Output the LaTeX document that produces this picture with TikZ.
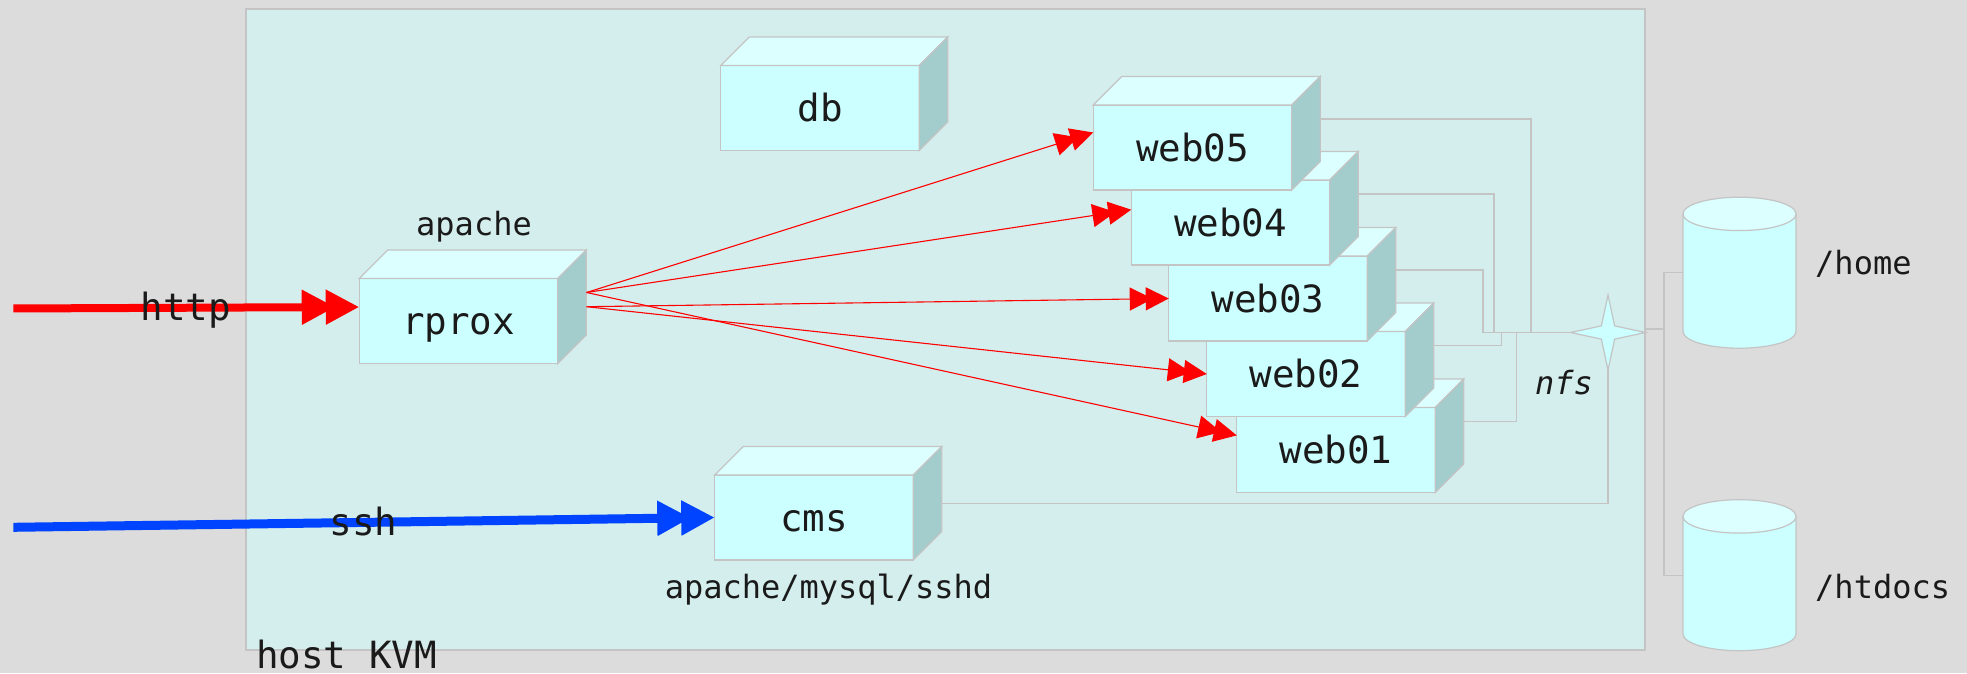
\documentclass[tikz,border=0pt]{standalone}
\usepackage{fontspec}
\setmonofont{DejaVu Sans Mono}
\usepackage{tikz}
\usetikzlibrary{positioning,arrows.meta,shapes.geometric}
\definecolor{pagegray}{HTML}{DCDCDC}
\definecolor{hostfill}{HTML}{D4EEED}
\definecolor{edgegray}{HTML}{C4C4C4}
\definecolor{frontcyan}{HTML}{CCFFFF}
\definecolor{topcyan}{HTML}{DCFFFF}
\definecolor{sidecyan}{HTML}{A3CCCC}
\definecolor{sshblue}{HTML}{0044FF}
\definecolor{inkblack}{HTML}{1A1A1A}
\tikzset{
  % Specifications for style of nodes:
  base/.style = {
    draw=edgegray,
    line width=1.2pt,
    inner sep=0pt,
    outer sep=0pt
  },
  server/.style = {
    base,
    rectangle,
    minimum width=198.5pt,
    minimum height=85pt,
    text height=27.5pt,
    text depth=0pt,
    fill=frontcyan,
    text=inkblack,
    font=\fontsize{37.5}{40}\selectfont\ttfamily
  },
  hostbox/.style = {
    base,
    rectangle,
    minimum width=1399pt,
    minimum height=641pt,
    fill=hostfill
  },
  store/.style = {
    rectangle,
    inner sep=0pt,
    outer sep=0pt,
    minimum width=113pt,
    minimum height=151pt
  },
  hub/.style = {
    base,
    star,
    star points=4,
    star point ratio=4,
    minimum size=75pt,
    fill=frontcyan
  },
  tag/.style = {
    inner sep=0pt,
    text height=24pt,
    text depth=0pt,
    text=inkblack,
    font=\fontsize{32}{36}\selectfont\ttfamily
  },
  bigtag/.style = {
    tag,
    text height=27.5pt,
    font=\fontsize{37.5}{40}\selectfont\ttfamily
  },
  link/.style = {
    draw=edgegray,
    line width=1.2pt
  },
  feed/.style = {
    red,
    line width=1.1pt,
    -{Triangle[length=23pt,width=23pt,sep=-7pt]Triangle[length=23pt,width=23pt]}
  },
  entry/.style = {
    line width=#1,
    -{Triangle[length=33.5pt,width=33pt,sep=-9.5pt]Triangle[length=33.5pt,width=33pt]}
  },
}
\def\boxfaces#1{
  \begin{scope}
    \draw[base, fill=topcyan] (#1.north west) -- ++(28.5,28.5) -- ++(198.5,0) -- (#1.north east) -- cycle;
    \draw[base, fill=sidecyan] (#1.north east) -- ++(28.5,28.5) -- ++(0,-85) -- (#1.south east) -- cycle;
    \coordinate (#1out) at ([shift={(28.5,28.5)}]#1.east);
  \end{scope}
}
\def\storeshape#1{
  \begin{scope}
    \draw[base, fill=frontcyan] ([yshift=-16.7pt]#1.north west) -- ([yshift=16.7pt]#1.south west)
      arc[start angle=180, end angle=360, x radius=56.5, y radius=16.7]
      -- ([yshift=-16.7pt]#1.north east) -- cycle;
    \draw[base, fill=topcyan] ([yshift=-16.7pt]#1.north west)
      arc[start angle=180, end angle=540, x radius=56.5, y radius=16.7] -- cycle;
  \end{scope}
}

\begin{document}
\begin{tikzpicture}[x=1pt, y=1pt]
    \fill[pagegray] (0,0) rectangle (1967,673);
    % Host and the boxes in it
    \node[hostbox] (host) at (945.5,343.5) {};
    \node[server] (rprox) at (458.5,352)   {rprox};
    \node[server] (db)    at (820,565)     {db};
    \node[server] (cms)   at (814,155.5)   {cms};
    \node[server] (web01) at (1336,223)    {web01};
    \boxfaces{web01}
    \node[server] (web02) at (1306,299)    {web02};
    \boxfaces{web02}
    \node[server] (web03) at (1268,374.5)  {web03};
    \boxfaces{web03}
    \node[server] (web04) at (1230.5,450.5) {web04};
    \boxfaces{web04}
    \node[server] (web05) at (1192.5,525.5) {web05};
    \boxfaces{web05}
    \boxfaces{rprox}
    \boxfaces{db}
    \boxfaces{cms}
    \node[hub] (nfshub) at (1608,340.5) {};
    \node[store] (home)   at (1739.5,400.3) {};
    \node[store] (htdocs) at (1739.5,97.8)  {};
    \storeshape{home}
    \storeshape{htdocs}
    % Coordinates for the ends of the lines
    \coordinate (cmsexit) at ([shift={(28.5,14)}]cms.east);
    \coordinate (drop01) at (1516.7,340.5);
    \coordinate (drop02) at (1501.5,340.5);
    \coordinate (drop03) at (1483,340.5);
    \coordinate (drop04) at (1494,340.5);
    \coordinate (drop05) at (1531,340.5);
    \coordinate (nfsexit) at (1645.7,344);
    \coordinate (nfsjoin) at (1664,344);
    \coordinate (httpin) at (13.4,364.5);
    \coordinate (sshin) at (13.4,145.7);
    \coordinate (rproxup) at (586.6,380.5);
    \coordinate (rproxlow) at (586.6,366.3);
    % Lines to the nfs star and the shares
    \draw[link] (web01out) -| (drop01) -- (nfshub.west);
    \draw[link] (web02out) -| (drop02) -- (nfshub.west);
    \draw[link] (web03out) -| (drop03) -- (nfshub.west);
    \draw[link] (web04out) -| (drop04) -- (nfshub.west);
    \draw[link] (web05out) -| (drop05) -- (nfshub.west);
    \draw[link] (cmsexit) -| (nfshub.south);
    \draw[link] (nfsexit) -- (nfsjoin);
    \draw[link] (home.west) -| (nfsjoin);
    \draw[link] (htdocs.west) -| (nfsjoin);
    % Traffic
    \draw[feed] (rproxup) -- ([yshift=15pt]web05.west);
    \draw[feed] (rproxup) -- ([yshift=12.8pt]web04.west);
    \draw[feed] (rproxlow) -- (web03.west);
    \draw[feed] (rproxlow) -- (web02.west);
    \draw[feed] (rproxup) -- ([yshift=14.6pt]web01.west);
    \draw[entry=8pt, red] (httpin) -- ([yshift=14pt]rprox.west);
    \draw[entry=9pt, sshblue] (sshin) -- (cms.west);
    % Labels
    \node[bigtag] (httptag) at (186,366)  {http};
    \node[bigtag] (sshtag)  at (363.5,151) {ssh};
    \node[bigtag, anchor=west] (hosttag) at (256,18) {host KVM};
    \node[tag] (apachetag) at (474,449)   {apache};
    \node[tag] (cmstag)    at (828.5,87)  {apache/mysql/sshd};
    \node[tag, font=\fontsize{32}{36}\selectfont\ttfamily\itshape] (nfstag) at (1564,291) {nfs};
    \node[tag, anchor=west] (hometag)   at (1815,410) {/home};
    \node[tag, anchor=west] (htdocstag) at (1815,86.5)  {/htdocs};
\end{tikzpicture}
\end{document}
